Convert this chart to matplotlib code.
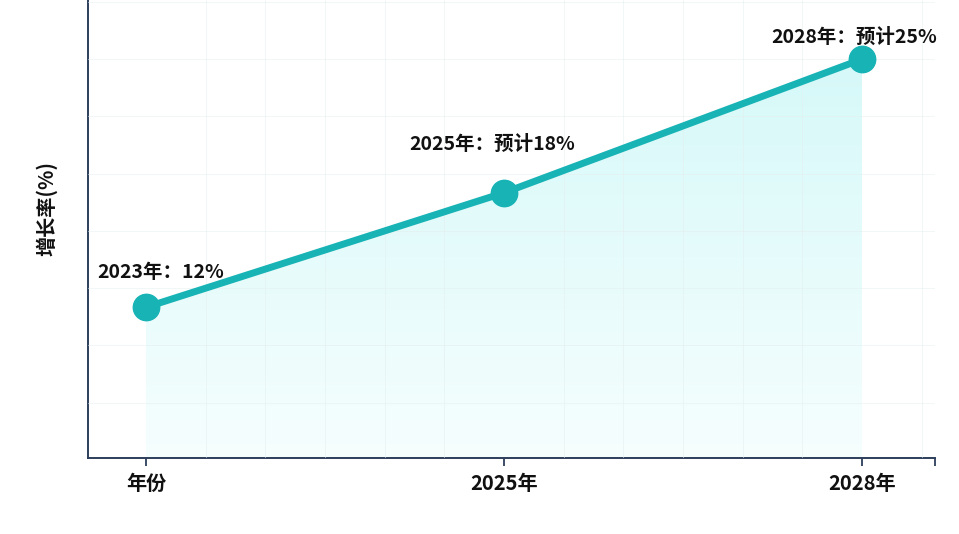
import matplotlib
matplotlib.use("Agg")
import matplotlib.pyplot as plt
import numpy as np
from matplotlib.patches import Polygon

plt.rcParams['font.family'] = ['Noto Sans CJK SC', 'DejaVu Sans']

# data
years = ['2023', '2025', '2028']
growth = [12, 18, 25]
tick_labels = ['年份', '2025年', '2028年']
point_labels = ['2023年：12%', '2025年：预计18%', '2028年：预计25%']
# label offsets (pixels) and alignment relative to each point
label_offsets = [(-49, 35), (-12, 48), (-8, 22)]
label_ha = ['left', 'center', 'center']

line_color = '#17b3b5'
spine_color = '#2d3e5c'


def main():
    fig = plt.figure(figsize=(9.59, 5.34), dpi=100)
    ax = fig.add_axes([0.0918, 0.1423, 0.8832, 0.8577])

    x = np.arange(len(years))
    y = np.array(growth, dtype=float)
    x_left, x_right = -0.162, 2.204
    y_bot, y_top = 4.1, 28.1

    # gradient fill under the line
    grad = np.linspace(0, 1, 256).reshape(-1, 1, 1)
    top_c = np.array([0.84, 0.975, 0.975])
    bot_c = np.array([0.965, 0.996, 0.996])
    img = bot_c + (top_c - bot_c) * grad
    im = ax.imshow(img, extent=[x[0], x[-1], y_bot, y.max()],
                   origin='lower', aspect='auto', zorder=1)
    verts = list(zip(x, y)) + [(x[-1], y_bot), (x[0], y_bot)]
    clip = Polygon(verts, closed=True, transform=ax.transData,
                   facecolor='none', edgecolor='none')
    ax.add_patch(clip)
    im.set_clip_path(clip)

    ax.plot(x, y, color=line_color, linewidth=5, zorder=3,
            solid_capstyle='round')
    ax.plot(x, y, 'o', color=line_color, markersize=19, zorder=4)

    for xi, yi, txt, off, ha in zip(x, y, point_labels, label_offsets, label_ha):
        ax.annotate(txt, (xi, yi), xytext=off, textcoords='offset pixels',
                    ha=ha, va='center', fontsize=14, fontweight='bold',
                    color='#111111', zorder=5)

    # faint grid
    ax.set_axisbelow(False)
    ax.set_xticks(np.arange(-0.5, 2.3, 1 / 6), minor=True)
    ax.set_yticks(np.arange(4, 29, 3), minor=True)
    ax.grid(which='minor', color='#e4eeee', linewidth=0.6, alpha=0.6, zorder=2)
    ax.tick_params(which='minor', length=0)

    ax.set_xticks(list(x) + [x_right])
    ax.set_xticklabels(tick_labels + [''])
    ax.set_yticks([])
    ax.tick_params(axis='x', length=6, width=1.3, color=spine_color,
                   labelsize=14.5, pad=5)
    for lab in ax.get_xticklabels():
        lab.set_fontweight('bold')
        lab.set_color('#111111')

    ax.set_xlim(x_left, x_right)
    ax.set_ylim(y_bot, y_top)

    for side in ['top', 'right']:
        ax.spines[side].set_visible(False)
    for side in ['left', 'bottom']:
        ax.spines[side].set_color(spine_color)
        ax.spines[side].set_linewidth(1.4)

    ax.set_ylabel('增长率(%)', fontsize=14.5, fontweight='bold', color='#111111')
    ax.yaxis.set_label_coords(-0.036, 0.545)

    fig.savefig('out.png', dpi=100)


if __name__ == "__main__":
    main()
